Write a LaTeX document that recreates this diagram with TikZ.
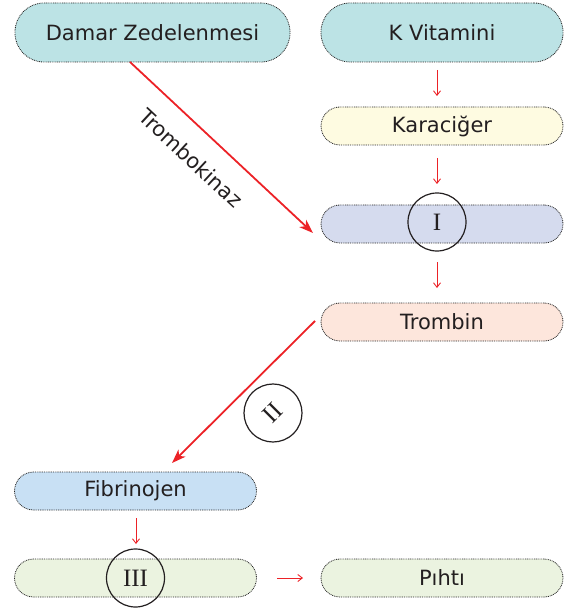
\documentclass[tikz,border=0pt]{standalone}
\usepackage{fontspec}
\setmainfont{DejaVu Sans}
\newfontfamily\romnum{Liberation Serif}
\usetikzlibrary{arrows.meta}
\definecolor{tealf}{HTML}{BCE3E5}
\definecolor{yelf}{HTML}{FEFBE1}
\definecolor{lavf}{HTML}{D5DBEE}
\definecolor{peachf}{HTML}{FDE6DC}
\definecolor{bluef}{HTML}{C8E0F4}
\definecolor{greenf}{HTML}{EBF3E0}
\definecolor{arr}{HTML}{EC2227}
\definecolor{txt}{HTML}{231F20}
\begin{document}
\begin{tikzpicture}[x=1pt,y=-1pt,
  lbl/.style={text=txt, font=\fontsize{21}{24}\selectfont},
  pill/.style={draw=black!85, dash pattern=on 0.9pt off 0.9pt, line width=0.8pt, rounded corners=#1, inner sep=0pt, lbl},
  big/.style={pill=29pt, minimum height=59pt},
  small/.style={pill=19pt, minimum height=38pt},
  wide/.style={minimum width=275pt},
  nar/.style={minimum width=242pt},
  sarr/.style={draw=arr, line width=0.9pt, -{Straight Barb[length=4.5pt,width=7pt]}},
  barr/.style={draw=arr, line width=1.8pt, -{Stealth[length=14pt,width=10pt,inset=4pt]}},
  ring/.style={circle, draw=txt, line width=1.2pt, minimum size=58pt, inner sep=0pt, text=txt, font=\romnum\fontsize{25}{27}\selectfont}
]
\useasboundingbox (0,0) rectangle (564,612);
\node[big, wide, fill=tealf] (dz) at (152.5,32.5) {Damar Zedelenmesi};
\node[big, nar, fill=tealf] (kv) at (442,32.5) {K Vitamini};
\node[small, nar, fill=yelf] (kc) at (442,126) {Karaciğer};
\node[small, nar, fill=lavf] (one) at (442,224) {};
\node[ring] (c1) at (437,222) {I};
\node[small, nar, fill=peachf] (tr) at (442,322) {Trombin};
\node[small, nar, fill=bluef] (fb) at (135.5,491) {Fibrinojen};
\node[small, nar, fill=greenf] (three) at (135.5,578) {};
\node[ring] (c3) at (135.5,578) {III};
\node[small, nar, fill=greenf] (ph) at (442,578) {Pıhtı};
\node[ring, rotate=45] (c2) at (273,413) {II};

\coordinate (a1s) at (437,70);
\coordinate (a1e) at (437,96);
\draw[sarr] (a1s) -- (a1e);
\coordinate (a2s) at (437,158);
\coordinate (a2e) at (437,184);
\draw[sarr] (a2s) -- (a2e);
\coordinate (a3s) at (437,262);
\coordinate (a3e) at (437,288);
\draw[sarr] (a3s) -- (a3e);
\coordinate (a4s) at (136,518);
\coordinate (a4e) at (136,544);
\draw[sarr] (a4s) -- (a4e);
\coordinate (a5s) at (277,578);
\coordinate (a5e) at (303,578);
\draw[sarr] (a5s) -- (a5e);

\coordinate (b1s) at (130,62);
\coordinate (b1e) at (313,233);
\draw[barr] (b1s) -- (b1e);
\node[rotate=-43, lbl] (tk) at (191,158) {Trombokinaz};
\coordinate (b2s) at (315,321);
\coordinate (b2e) at (172,463);
\draw[barr] (b2s) -- (b2e);
\end{tikzpicture}
\end{document}
